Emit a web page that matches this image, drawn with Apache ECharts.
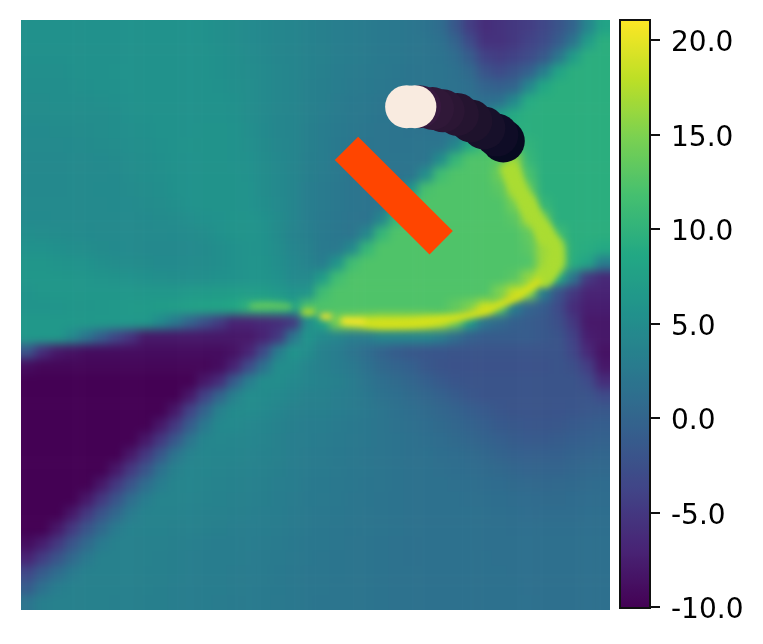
<!DOCTYPE html>
<html><head><meta charset="utf-8">
<style>
html,body{margin:0;padding:0;background:#fff}
#c{width:763px;height:644px}
#c canvas[data-zr-dom-id="zr_0"]{filter:blur(5px);clip-path:inset(20px 153px 34px 21px)}
#c canvas[data-zr-dom-id="zr_1"]{filter:blur(3px);clip-path:inset(20px 153px 34px 21px)}
</style>
<script src="https://cdn.jsdelivr.net/npm/echarts@6/dist/echarts.min.js"></script>
</head><body><div id="c"></div>
<script>
const fieldRows=[
[5.5,5.5,5.5,5.5,5.5,5.5,5.5,5.7,5.7,5.7,5.7,5.7,5.5,5.3,5,4.7,4.4,4.2,4,3.7,3.4,3.2,3,2.8,2.6,2.4,2.2,1.8,1,-1.5,-4.5,-6,-5.5,-5,-4.5,-3.5,-2,0,4,8],
[5.5,5.5,5.5,5.5,5.5,5.5,5.5,5.7,5.7,5.7,5.7,5.7,5.5,5.3,5,4.7,4.4,4.2,4,3.7,3.4,3.2,3,2.8,2.6,2.4,2.2,2,1.5,0,-3,-5.5,-5.5,-5,-4,-3,-1,2,7,9.5],
[5.4,5.4,5.4,5.5,5.5,5.5,5.5,5.6,5.7,5.7,5.7,5.7,5.6,5.4,5.1,4.8,4.5,4.2,4,3.7,3.5,3.2,3,2.8,2.6,2.4,2.2,2,1.8,1,-1,-4,-4.5,-4,-3,-1.5,2,7,9.5,9.5],
[5.3,5.3,5.3,5.4,5.5,5.5,5.6,5.7,5.7,5.7,5.7,5.7,5.6,5.4,5.2,4.9,4.6,4.3,4,3.7,3.4,3.1,2.9,2.7,2.5,2.3,2.1,2,1.9,1.6,.5,-2,-3,-2,-.5,3,8,9.5,9.5,9.5],
[5.2,5.2,5.2,5.3,5.4,5.5,5.5,5.6,5.7,5.7,5.7,5.7,5.7,5.5,5.3,5,4.6,4.3,4,3.6,3.3,3,2.8,2.6,2.4,2.2,2.1,2,1.9,1.7,1.3,0,-.5,0,4,8.5,9.5,9.5,9.5,9.5],
[5,5,5.1,5.2,5.2,5.3,5.4,5.5,5.6,5.7,5.7,5.7,5.7,5.6,5.4,5,4.6,4.3,4,3.5,3.3,2.9,2.6,2.4,2.2,2,1.9,1.8,1.7,1.6,1.5,1.3,1.5,4.5,9,9.5,9.5,9.5,9.5,9.5],
[4.9,4.9,5,5,5,5,5.2,5.4,5.5,5.7,5.7,5.7,5.7,5.7,5.5,5,4.6,4.2,4,3.5,3.2,2.8,2.5,2.3,2.1,2,1.9,1.8,1.7,1.6,1.5,3,7,9,9.5,9.5,9.5,9.5,9.5,9.5],
[4.7,4.7,4.8,4.8,4.9,5,5.1,5.3,5.4,5.6,5.7,5.7,5.8,5.8,5.6,5.2,4.7,4.2,4,3.4,3.1,2.7,2.4,2.2,2,1.9,1.8,1.8,1.8,1.8,3,8,9.5,9.5,9.5,9.5,9.5,9.5,9.5,9.5],
[4.6,4.6,4.6,4.7,4.8,4.9,5,5.1,5.3,5.5,5.7,5.8,5.8,5.8,5.7,5.3,4.8,4.3,4,3.4,3,2.6,2.3,2.1,2,1.9,1.9,2,2,4,9,11.5,12,11.5,10,9.5,9.5,9.5,9.5,9.5],
[4.5,4.5,4.5,4.6,4.6,4.7,4.8,5,5.2,5.4,5.6,5.7,5.8,5.8,5.7,5.4,4.9,4.4,4,3.3,3,2.5,2.2,2,2,2,2,2,5,10.5,12.4,12.4,13,16,10.5,9.5,9.5,9.5,9.5,9.5],
[4.5,4.5,4.5,4.6,4.6,4.6,4.7,4.9,5.1,5.3,5.5,5.7,5.8,5.8,5.8,5.5,5,4.5,4,3.3,2.9,2.5,2.1,2,1.9,1.9,2,5,11.5,12.4,12.4,12.4,14,17,12,9.5,9.5,9.5,9.5,9.5],
[4.5,4.5,4.5,4.6,4.6,4.7,4.7,4.8,5,5.2,5.5,5.7,5.8,5.8,5.8,5.6,5,4.5,4,3.2,2.8,2.4,2.1,1.9,1.9,2,6,12,12.4,12.4,12.4,12.4,13,16.5,13.5,9.5,9.5,9.5,9.5,9.5],
[4.6,4.6,4.6,4.6,4.6,4.6,4.7,4.7,4.9,5,5.3,5.6,5.8,5.8,5.8,5.7,5.2,4.6,4,3.2,2.8,2.4,2.1,1.9,2,5,11.5,12.4,12.4,12.4,12.4,12.4,12.4,14.5,17,10.5,9.5,9.5,9.5,9.5],
[4.7,4.7,4.6,4.6,4.6,4.6,4.6,4.6,4.7,4.8,4.9,5.1,5.5,5.7,5.9,5.9,5.5,4.8,4,3.2,2.7,2.3,2,1.8,4,10.5,12.4,12.4,12.4,12.4,12.4,12.4,12.4,13,16.5,13.5,9.5,9.5,9.5,9.5],
[5.2,5,4.9,4.8,4.7,4.6,4.6,4.6,4.6,4.6,4.7,4.8,5,5.5,5.8,5.9,5.6,4.8,3.8,3.3,2.7,2.3,2,4,10.5,12.4,12.4,12.4,12.4,12.4,12.4,12.4,12.4,12.4,13.5,17.5,11.5,9.5,9.5,9.5],
[5.7,5.6,5.4,5.2,5,4.8,4.7,4.6,4.5,4.5,4.5,4.6,4.8,5.1,5.5,5.8,5.6,5,4,3.5,2.7,2.5,4.5,10.5,12.4,12.4,12.4,12.4,12.4,12.4,12.4,12.4,12.4,12.4,13,16.5,15,9.5,9.2,8.8],
[6.2,6.2,6,5.8,5.6,5.3,5,4.9,4.8,4.7,4.7,4.8,4.9,5.1,5.5,5.8,5.8,5.2,4.4,3.8,3,6,11.5,12.4,12.4,12.4,12.4,12.4,12.4,12.4,12.4,12.4,12.4,12.4,12.4,16.5,16,9.2,8,3],
[6.3,6.3,6.3,6.2,6.1,6,5.8,5.6,5.4,5.3,5.2,5.2,5.3,5.5,5.7,6,6,5.5,4.6,4.5,7,11.5,12.4,12.4,12.4,12.4,12.4,12.4,12.4,12.4,12.4,12.4,12.4,13,16,17,9,2,-5,-6.5],
[6,6.2,6.3,6.4,6.4,6.4,6.4,6.4,6.4,6.4,6.4,6.6,6.8,6.9,7,7.2,7,6.5,5.8,6,11.5,12.4,12.4,12.4,12.4,12.4,12.4,12.4,12.4,12.4,12.4,12.4,15,18,15,3,-2,-5,-7,-7],
[6,6,6.1,6.2,6.2,6.4,6.5,6.6,6.8,7,7.2,7.5,7.8,8,8.5,10,10.5,10,8,12.4,12.4,12.4,12.4,12.4,12.4,12.4,12.4,12.4,12.4,13.5,15,18,13,3,0,-1,-3,-6,-7.5,-7.5],
[6.5,6.5,6.5,6.5,6.5,6.5,6.5,6.5,6.5,4.7,2.6,-.2,-2.5,-4.7,-7,-7,-6.5,-6,-5,5,8,15,16,17,18,18,18,18,17,14,7,2,.5,-.5,-1,-1.5,-2.5,-5,-8,-8],
[6.5,6.5,6.5,4.6,2.1,-.8,-3.6,-5.5,-8,-8,-8,-8,-8,-8,-8,-8,-7,-5,2,6,4.5,4,3,3,4,4,4,4,3,1,-.5,-1,-1,-1,-1,-1.5,-2,-4,-7.5,-8],
[-2,-6,-8,-8.5,-9,-9,-9,-9,-9,-9,-9,-9,-9,-9,-8.5,-7,-3,3,6,5,3.5,3,2,1,0,-1,-1.5,-1.7,-1.8,-2,-2,-2,-2,-2,-2,-2,-2,-3.5,-6.5,-8.5],
[-9,-9.5,-9.5,-9.5,-9.5,-9.5,-9.5,-9.5,-9.5,-9.5,-9.5,-9.5,-9.5,-9,-7,-3,1.5,5,5,4,3.5,3,2.5,1.5,.5,0,-.5,-1.5,-2,-2.2,-2.2,-2.2,-2.2,-2.2,-2.2,-2.2,-2,-2.5,-4.5,-8],
[-10,-10,-10,-10,-10,-10,-10,-10,-10,-10,-10,-10,-8,-6,-1,3,5,5,4.5,4,3.7,3.4,2.9,2,1.3,.8,.2,-.5,-1.2,-1.8,-2,-2,-2,-2,-2,-2,-2,-2,-3,-6],
[-10,-10,-10,-10,-10,-10,-10,-10,-10,-10,-10,-8,-4,0,3.5,5,4.8,4.5,4,3.5,3.5,3.2,2.9,2.3,1.7,1.3,.8,.3,-.3,-1,-1.6,-2,-2,-2,-2,-2,-2,-2,-2,-3],
[-10,-10,-10,-10,-10,-10,-10,-10,-10,-10,-8,-4,0,3.5,4.8,4.8,4.5,4,3.6,3.3,3.3,3,2.8,2.4,2,1.6,1.2,.8,.3,-.2,-.8,-1.3,-1.7,-2,-2,-2,-1.9,-1.8,-1.6,-1.5],
[-10,-10,-10,-10,-10,-10,-10,-10,-10,-8,-5,-1,2.5,4.4,4.6,4.3,4,3.7,3.3,3,3,2.8,2.6,2.3,2,1.7,1.4,1.1,.7,.3,-.2,-.7,-1.2,-1.5,-1.7,-1.7,-1.6,-1.3,-1,-.8],
[-10,-10,-10,-10,-10,-10,-10,-10,-8,-5,-1.5,2,4,4.3,4.2,4.1,3.9,3.6,3.2,3,2.9,2.7,2.5,2.3,2,1.8,1.6,1.3,1,.7,.3,-.2,-.6,-1,-1.2,-1.2,-1,-.8,-.5,-.3],
[-10,-10,-10,-10,-10,-10,-10,-8,-5,-1.5,2,3.7,4.2,4.1,4,3.9,3.7,3.5,3.2,2.9,2.8,2.6,2.4,2.2,2,1.8,1.6,1.5,1.2,1,.8,.4,0,-.4,-.6,-.6,-.5,-.2,0,.2],
[-10,-10,-10,-10,-10,-10,-8,-5,-2,1.5,3.5,4,4,3.9,3.8,3.7,3.5,3.3,3.1,2.8,2.7,2.5,2.3,2.2,2,1.8,1.7,1.6,1.4,1.2,1,.8,.5,.2,0,0,0,.2,.4,.5],
[-10,-10,-10,-10,-10,-8,-5,-2,1,3,3.9,4,3.9,3.8,3.7,3.6,3.4,3.2,3,2.7,2.6,2.4,2.3,2.1,2,1.8,1.7,1.6,1.5,1.4,1.3,1.1,.9,.7,.5,.4,.5,.6,.8,.9],
[-10,-10,-10,-10,-8,-5,-2,1,3,3.9,3.9,3.9,3.8,3.7,3.6,3.4,3.3,3.1,2.9,2.6,2.5,2.4,2.2,2.1,1.9,1.8,1.7,1.6,1.5,1.5,1.4,1.3,1.2,1,.9,.8,.8,.9,1,1.1],
[-10,-10,-10,-8,-5,-2,.5,2.8,3.8,3.8,3.8,3.7,3.6,3.5,3.4,3.3,3.2,3,2.8,2.5,2.4,2.3,2.2,2,1.9,1.8,1.7,1.6,1.5,1.5,1.5,1.4,1.3,1.2,1.1,1.1,1.1,1.1,1.2,1.2],
[-10,-10,-8,-5,-2,.5,2.8,3.7,3.7,3.7,3.6,3.5,3.4,3.3,3.2,3.1,3,2.9,2.7,2.4,2.3,2.2,2.1,2,1.9,1.8,1.7,1.6,1.5,1.5,1.5,1.4,1.4,1.3,1.3,1.3,1.3,1.3,1.3,1.3],
[-9,-7.5,-5,-2,.5,2.7,3.6,3.6,3.6,3.5,3.4,3.3,3.2,3.1,3,3,2.9,2.8,2.6,2.3,2.3,2.2,2,1.9,1.8,1.7,1.6,1.6,1.5,1.5,1.5,1.4,1.4,1.4,1.4,1.4,1.4,1.4,1.4,1.4],
[-7,-4.5,-2,.5,2.5,3.5,3.6,3.5,3.5,3.4,3.3,3.2,3.1,3,3,2.9,2.8,2.7,2.5,2.3,2.2,2.1,2,1.9,1.8,1.7,1.6,1.6,1.5,1.5,1.5,1.5,1.4,1.4,1.4,1.4,1.4,1.4,1.4,1.4],
[-3.5,-1,1,2.7,3.5,3.6,3.5,3.5,3.4,3.4,3.3,3.2,3.1,3,2.9,2.8,2.8,2.6,2.4,2.2,2.2,2.1,2,1.9,1.8,1.7,1.7,1.6,1.6,1.5,1.5,1.5,1.5,1.4,1.4,1.4,1.4,1.4,1.4,1.4],
[-1,1.5,3,3.5,3.6,3.5,3.5,3.4,3.4,3.3,3.2,3.1,3,3,2.9,2.8,2.7,2.6,2.4,2.2,2.2,2,2,1.9,1.8,1.7,1.7,1.6,1.6,1.5,1.5,1.5,1.5,1.5,1.4,1.4,1.4,1.4,1.4,1.4],
[2,3.3,3.6,3.6,3.5,3.5,3.4,3.4,3.3,3.3,3.2,3.1,3,2.9,2.8,2.8,2.7,2.5,2.4,2.2,2.1,2,2,1.9,1.8,1.7,1.7,1.6,1.6,1.5,1.5,1.5,1.5,1.5,1.5,1.4,1.4,1.4,1.4,1.4]
];
const trailPoints=[[81.9,79.5],[80.8,80.5],[78.6,81.7],[76.4,82.9],[74.1,84],[71.7,84.6],[69.9,85],[67.7,85.3],[66.9,85.3],[65.5,85.3]];
const trailColors=['#070a20','#0f0c26','#17102a','#1e122c','#251430','#2b1634','#301838','#37193f','#f9ebe0','#f9ebe0'];
const barEnds=[[55.3,78.25],[71.36,62.25]];
const shockUpper=[[82.5,75.7],[83.4,73.7],[84.9,70.7],[86.8,67.3],[89,63.9],[90.7,60.7],[90.3,58],[88.1,55.8]];
const shockLower=[[58.4,48.7],[63.5,48.5],[68.6,48.8],[73.7,49.5],[77.9,50.5],[82.2,52.2],[85.6,54.1],[88.1,55.9]];
const streakLeft=[[39,51.5],[42,51.6],[46,51.4]];
const spotA=[[47.75,50.5],[49.96,50.5]];
const spotB=[[50.8,49.8],[52.8,49.7]];
const spotC=[[54.4,49],[58.4,48.8]];
const viridis=['#440154','#482475','#414487','#355f8d','#2a788e','#21918c','#22a884','#44bf70','#7ad151','#bddf26','#fde725'];

const paddedRows=[fieldRows[0],...fieldRows,fieldRows[fieldRows.length-1]].map(r=>[r[0],...r,r[r.length-1]]);
const cells=[];
paddedRows.forEach((r,i)=>r.forEach((v,j)=>cells.push([j,i,v])));
const idx=paddedRows.map((_,i)=>i);

function overlayLine(data,color,width,z,smooth){
  return {type:'line',xAxisIndex:1,yAxisIndex:1,data,zlevel:1,z,silent:true,showSymbol:false,symbol:'none',smooth:!!smooth,clip:false,
    lineStyle:{color,width,cap:'butt',join:'round'}};
}
const chart=echarts.init(document.getElementById('c'),null,{renderer:'canvas'});
chart.setOption({
  animation:false,
  backgroundColor:'transparent',
  tooltip:{show:false},
  grid:[
    {left:5.76,top:5.25,width:619.08,height:619.5},
    {left:20.5,top:20,width:589.5,height:590},
    {left:620,top:20,width:30,height:588,show:true,z:10,zlevel:2,borderColor:'#111',borderWidth:2,backgroundColor:'transparent'},
    {left:620,top:40,width:30,height:567},
    {left:620,top:44,width:30,height:567}
  ],
  xAxis:[
    {type:'category',gridIndex:0,data:idx,show:false},
    {type:'value',gridIndex:1,min:0,max:100,show:false},
    {type:'value',gridIndex:2,min:0,max:1,show:false},
    {type:'value',gridIndex:3,min:0,max:1,show:false},
    {type:'value',gridIndex:4,min:0,max:1,show:false}
  ],
  yAxis:[
    {type:'category',gridIndex:0,data:idx,inverse:true,show:false},
    {type:'value',gridIndex:1,min:0,max:100,show:false},
    {type:'value',gridIndex:2,min:0,max:1,show:false},
    {type:'value',gridIndex:3,min:-10,max:20,interval:5,position:'right',zlevel:2,z:11,
      splitLine:{show:false},axisLine:{show:true,onZero:false,lineStyle:{color:'#111',width:2}},
      axisTick:{show:true,length:10,lineStyle:{color:'#111',width:2}},
      axisLabel:{show:false}},
    {type:'value',gridIndex:4,min:-10,max:20,interval:5,position:'right',zlevel:2,z:11,
      splitLine:{show:false},axisLine:{show:false},axisTick:{show:false},
      axisLabel:{show:true,margin:21,color:'#000',fontFamily:'DejaVu Sans',fontSize:28,formatter:v=>v.toFixed(1)}}
  ],
  visualMap:[{type:'continuous',seriesIndex:0,min:-10,max:21.06,left:620,top:20,padding:0,itemWidth:30,itemHeight:588,
    text:null,calculable:false,realtime:false,hoverLink:false,zlevel:2,z:5,inRange:{color:viridis}}],
  series:[
    {type:'heatmap',xAxisIndex:0,yAxisIndex:0,data:cells,progressive:0,silent:true,zlevel:0,emphasis:{disabled:true}},
    overlayLine(shockUpper,'#aadc32',17,2,true),
    overlayLine(shockLower,'#d8e219',8,3,true),
    overlayLine(streakLeft,'#7ad151',4,3,false),
    overlayLine(spotA,'#c8e020',5,3,false),
    overlayLine(spotB,'#fde725',6,3,false),
    overlayLine(spotC,'#fde725',7,3,false),
    {type:'line',xAxisIndex:1,yAxisIndex:1,data:barEnds,zlevel:2,z:5,silent:true,symbol:'none',lineStyle:{color:'#ff4500',width:33,cap:'butt'}},
    {type:'scatter',xAxisIndex:1,yAxisIndex:1,data:trailPoints,zlevel:2,z:6,silent:true,symbolSize:43,itemStyle:{opacity:1,color:p=>trailColors[p.dataIndex]}}
  ]
});
</script></body></html>
